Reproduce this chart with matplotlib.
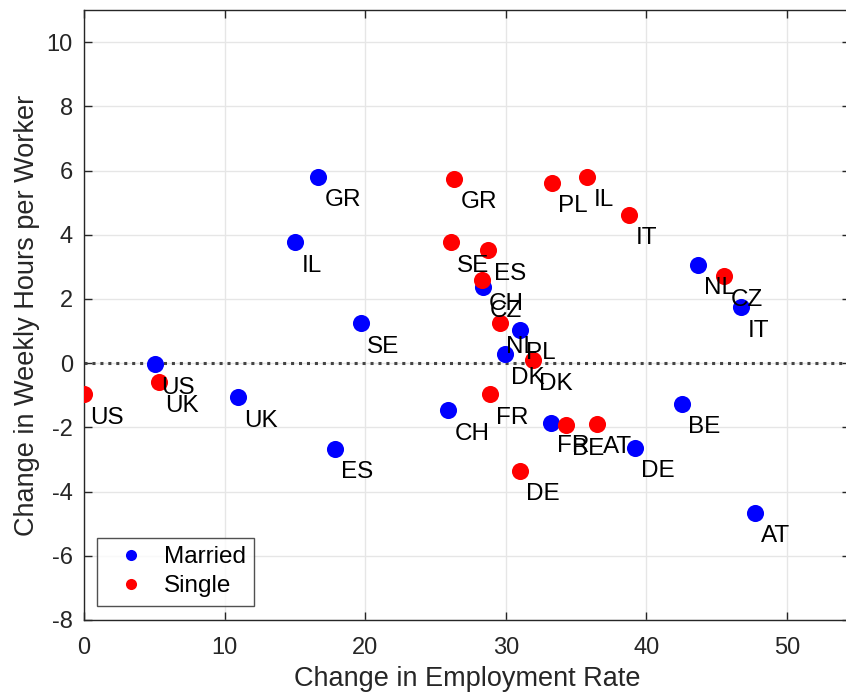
import matplotlib
matplotlib.use("Agg")
import matplotlib.pyplot as plt

plt.rcParams['font.family'] = ['Liberation Sans', 'DejaVu Sans']
plt.rcParams['axes.unicode_minus'] = False

countries_married = ["AT", "BE", "CH", "CZ", "DE", "DK", "ES", "FR",
                     "GR", "IL", "IT", "NL", "PL", "SE", "UK", "US"]
emp_married = [47.72, 42.53, 25.89, 28.38, 39.19, 29.94, 17.85, 33.21,
               16.64, 15.01, 46.73, 43.67, 31.00, 19.70, 10.95, 5.05]
hours_married = [-4.66, -1.27, -1.46, 2.36, -2.64, 0.28, -2.67, -1.86,
                 5.81, 3.76, 1.74, 3.07, 1.04, 1.24, -1.06, -0.04]

countries_single = ["AT", "BE", "CH", "CZ", "DE", "DK", "ES", "FR",
                    "GR", "IL", "IT", "NL", "PL", "SE", "UK", "US"]
emp_single = [36.49, 34.28, 28.31, 45.52, 31.00, 31.93, 28.73, 28.88,
              26.32, 35.78, 38.76, 29.59, 33.29, 26.10, 5.33, 0.00]
hours_single = [-1.89, -1.93, 2.58, 2.70, -3.35, 0.09, 3.51, -0.96,
                5.75, 5.81, 4.63, 1.24, 5.62, 3.76, -0.59, -0.96]

xticks = [0, 10, 20, 30, 40, 50]
yticks = [-8, -6, -4, -2, 0, 2, 4, 6, 8, 10]

W, H = 846, 694
fig = plt.figure(figsize=(W / 100, H / 100), dpi=100)
xmax = 54.5
ax = fig.add_axes([84 / W, (H - 620) / H, (xmax * 14.06) / W, 610 / H])

dark = '#262626'
ax.set_xlim(0, xmax)
ax.set_ylim(-8, 11)
ax.set_xticks(xticks)
ax.set_yticks(yticks)
ax.grid(True, color='#e6e6e6', linewidth=1.0, zorder=0)
ax.set_axisbelow(True)
for s in ax.spines.values():
    s.set_color(dark)
    s.set_linewidth(1.0)
ax.tick_params(direction='in', length=6, width=1, color=dark,
               labelcolor=dark, labelsize=17, top=True, right=True)
ax.tick_params(axis='x', pad=12)
ax.tick_params(axis='y', pad=8)

ax.axhline(0, color='#444444', linestyle=(0, (1, 1.6)), linewidth=2.2, zorder=1)

ax.plot(emp_married, hours_married, 'o', color='#0000ff', markersize=12.3,
        markeredgewidth=0, label='Married', zorder=3)
ax.plot(emp_single, hours_single, 'o', color='#ff0000', markersize=12.3,
        markeredgewidth=0, label='Single', zorder=3)

dx, dy = 0.45, -0.92
for c, x, y in zip(countries_married, emp_married, hours_married):
    ax.text(x + dx, y + dy, c, fontsize=17.5, ha='left', va='baseline',
            color='black', zorder=4)
for c, x, y in zip(countries_single, emp_single, hours_single):
    ax.text(x + dx, y + dy, c, fontsize=17.5, ha='left', va='baseline',
            color='black', zorder=4)

ax.set_xlabel('Change in Employment Rate', fontsize=19.5, color=dark, labelpad=5)
ax.set_ylabel('Change in Weekly Hours per Worker', fontsize=19.5, color=dark, labelpad=4.5)

leg = ax.legend(loc='lower left', bbox_to_anchor=(97 / W, (H - 606) / H),
                bbox_transform=fig.transFigure, fontsize=17.5, markerscale=0.65,
                frameon=True, fancybox=False, borderpad=0.35, handletextpad=0.3,
                labelspacing=0.3, borderaxespad=0, handlelength=2.1)
leg.get_frame().set_edgecolor(dark)
leg.get_frame().set_linewidth(1.0)

fig.savefig('out.png', dpi=100)
